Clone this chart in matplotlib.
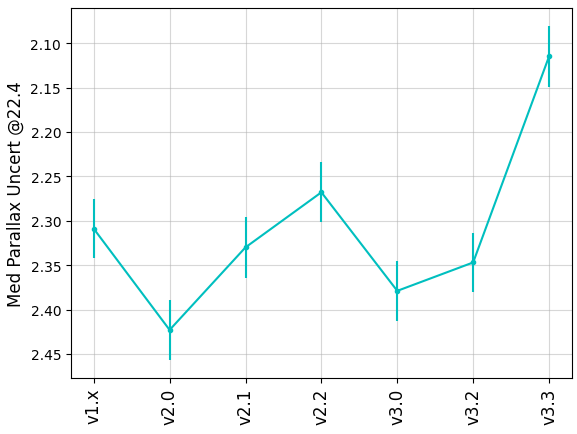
import matplotlib
matplotlib.use("Agg")
import matplotlib.pyplot as plt

versions = ["v1.x", "v2.0", "v2.1", "v2.2", "v3.0", "v3.2", "v3.3"]
med_uncert = [2.309, 2.423, 2.330, 2.268, 2.379, 2.347, 2.115]
uncert_err = [0.033, 0.034, 0.034, 0.034, 0.034, 0.033, 0.034]

fig, ax = plt.subplots(figsize=(5.77, 4.35), dpi=100)
fig.subplots_adjust(left=0.123, right=0.991, top=0.979, bottom=0.129)

ax.errorbar(range(len(versions)), med_uncert, yerr=uncert_err,
            color='c', marker='.', lw=1.5)
ax.set_xticks(range(len(versions)))
ax.set_xticklabels(versions, rotation=90, fontsize=12)
ax.set_ylabel("Med Parallax Uncert @22.4", fontsize=12)
ax.set_ylim(2.477, 2.0606)
ax.grid(alpha=0.5)

fig.savefig("out.png")
